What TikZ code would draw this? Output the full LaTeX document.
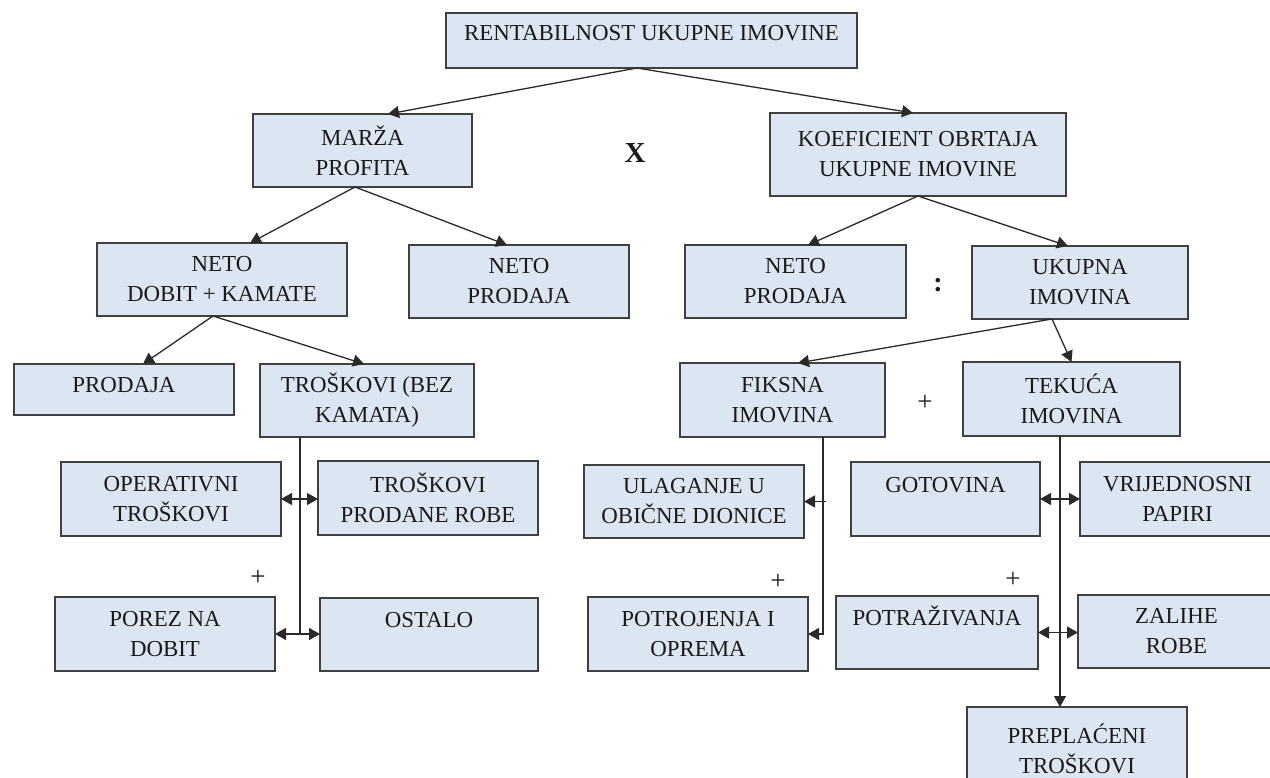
\documentclass[tikz,border=0pt]{standalone}
\usepackage{fontspec}
\setmainfont{Liberation Serif}
\usetikzlibrary{arrows.meta}
\definecolor{boxfill}{HTML}{DCE6F2}
\definecolor{boxline}{HTML}{404040}
\definecolor{txt}{HTML}{1A1A1A}
\definecolor{conn}{HTML}{2A2A2A}
\newcommand\mybox[7]{\node[box,#6,minimum width={#4-#2},minimum height={#5-#3}] (#1) at ({(#2+#4)/2},{(#3+#5)/2}) {#7};}
\begin{document}
\begin{tikzpicture}[x=1pt,y=-1pt,
  box/.style={draw=boxline,fill=boxfill,line width=1.3pt,inner sep=0pt,outer sep=0pt,
    align=center,text=txt,font=\fontsize{22.9}{30}\selectfont},
  one/.style={text height=15pt,text depth=#1},
  tip/.tip={Triangle[length=11pt,width=12pt]},
  arr/.style={draw=conn,line width=1.3pt,-tip},
  arrb/.style={draw=conn,line width=1.3pt,tip-tip},
  ln/.style={draw=conn,line width=1.3pt},
  sym/.style={text=txt,inner sep=0pt,font=\fontsize{27}{30}\selectfont}]
\useasboundingbox (0,0) rectangle (1270,778);
\mybox{rent}{446}{13}{857}{68}{one=15pt}{RENTABILNOST UKUPNE IMOVINE}
\mybox{marza}{253}{114}{472}{187}{}{MARŽA\\PROFITA}
\mybox{koef}{770}{113}{1066}{196}{}{KOEFICIENT OBRTAJA\\UKUPNE IMOVINE}
\mybox{ndk}{97}{243}{347}{316}{}{NETO\\DOBIT + KAMATE}
\mybox{npa}{409}{245}{629}{318}{}{NETO\\PRODAJA}
\mybox{npb}{685}{245}{906}{318}{}{NETO\\PRODAJA}
\mybox{ukup}{972}{246}{1188}{319}{}{UKUPNA\\IMOVINA}
\mybox{prod}{14}{364}{234}{415}{one=9pt}{PRODAJA}
\mybox{trbk}{260}{364}{474}{437}{}{TROŠKOVI (BEZ\\KAMATA)}
\mybox{fiks}{680}{363}{885}{437}{}{FIKSNA\\IMOVINA}
\mybox{tek}{963}{362}{1180}{436}{}{TEKUĆA\\IMOVINA}
\mybox{oper}{61}{462}{281}{536}{}{OPERATIVNI\\TROŠKOVI}
\mybox{trpr}{318}{461}{538}{535}{}{TROŠKOVI\\PRODANE ROBE}
\mybox{porez}{55}{597}{275}{671}{}{POREZ NA\\DOBIT}
\mybox{ostalo}{320}{598}{538}{671}{one=29pt}{OSTALO}
\mybox{ulag}{584}{465}{804}{538}{}{ULAGANJE U\\OBIČNE DIONICE}
\mybox{potr}{588}{597}{808}{671}{}{POTROJENJA I\\OPREMA}
\mybox{goto}{851}{462}{1040}{536}{one=28pt}{GOTOVINA}
\mybox{vrij}{1080}{462}{1275}{536}{}{VRIJEDNOSNI\\PAPIRI}
\mybox{potraz}{836}{596}{1038}{669}{one=29pt}{POTRAŽIVANJA}
\mybox{zal}{1078}{595}{1275}{668}{}{ZALIHE\\ROBE}
\mybox{prep}{967}{707}{1187}{790}{}{PREPLAĆENI\\TROŠKOVI}
% symbols
\node[sym,font=\fontsize{29}{30}\selectfont\bfseries] (xsym) at (635,153) {X};
\node[sym,font=\fontsize{28}{30}\selectfont\bfseries] (colon) at (938,285) {:};
\node[sym] (plusa) at (925,403) {+};
\node[sym] (plusb) at (258,578) {+};
\node[sym] (plusc) at (778,582) {+};
\node[sym] (plusd) at (1013,580) {+};
% tree connectors
\draw[arr] ([xshift=-14.5pt]rent.south) -- ([xshift=25.5pt]marza.north);
\draw[arr] ([xshift=-14.5pt]rent.south) -- ([xshift=-5pt]koef.north);
\draw[arr] ([xshift=-7.5pt]marza.south) -- ([xshift=28pt]ndk.north);
\draw[arr] ([xshift=-7.5pt]marza.south) -- ([xshift=-12pt]npa.north);
\draw[arr] (koef.south) -- ([xshift=12.5pt]npb.north);
\draw[arr] (koef.south) -- ([xshift=-12pt]ukup.north);
\draw[arr] ([xshift=-9pt]ndk.south) -- ([xshift=19pt]prod.north);
\draw[arr] ([xshift=-9pt]ndk.south) -- ([xshift=-3pt]trbk.north);
\draw[arr] ([xshift=-28pt]ukup.south) -- ([xshift=15.5pt]fiks.north);
\draw[arr] ([xshift=-28pt]ukup.south) -- (tek.north);
% left trunk
\coordinate (lt) at ([xshift=-67pt]trbk.south);
\draw[ln] (lt) -- (lt |- porez.east);
\draw[arrb] (oper.east) -- (oper.east -| trpr.west);
\draw[arrb] (porez.east) -- (porez.east -| ostalo.west);
% fiksna trunk
\coordinate (ft) at ([xshift=40.5pt]fiks.south);
\draw[arr] (ft) |- (potr.east);
\draw[arr] ([xshift=3pt]ft |- ulag.east) -- (ulag.east);
% tekuca trunk
\coordinate (tt) at ([xshift=-11.5pt]tek.south);
\draw[arr] (tt) -- (tt |- prep.north);
\draw[arrb] (goto.east) -- (goto.east -| vrij.west);
\draw[arrb] (potraz.east) -- (potraz.east -| zal.west);
\end{tikzpicture}
\end{document}
